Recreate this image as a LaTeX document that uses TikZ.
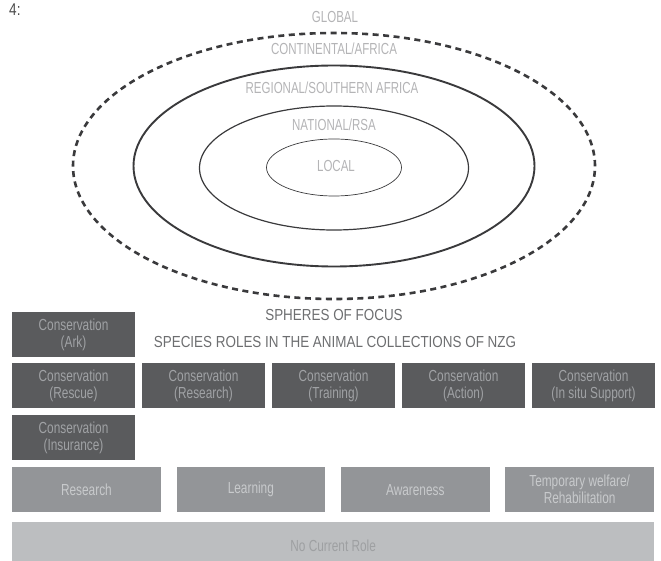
\documentclass[tikz,border=0pt]{standalone}
\usepackage{fontspec}
\setmainfont{Liberation Sans}
\newfontfamily\ringfont{Liberation Sans}[FakeStretch=0.72]
\newfontfamily\boxfont{Liberation Sans}[FakeStretch=0.74]
\newfontfamily\headfont{Liberation Sans}[FakeStretch=0.84]
\newfontfamily\numfont{Liberation Sans}[FakeStretch=0.8]
\usetikzlibrary{positioning}
\definecolor{nzgDark}{RGB}{90,91,93}
\definecolor{nzgDarkText}{RGB}{160,162,165}
\definecolor{nzgMid}{RGB}{147,149,152}
\definecolor{nzgMidText}{RGB}{200,202,204}
\definecolor{nzgLight}{RGB}{188,190,192}
\definecolor{nzgLightText}{RGB}{158,160,162}
\definecolor{nzgRing}{RGB}{58,58,60}
\definecolor{nzgRingText}{RGB}{180,180,182}
\definecolor{nzggray}{RGB}{109,110,112}

\begin{document}
\begin{tikzpicture}[x=1pt,y=-1pt,
  ringlabel/.style={text=nzgRingText, inner sep=0pt, font=\ringfont\fontsize{16}{18}\selectfont},
  headline/.style={text=nzggray, inner sep=0pt, font=\headfont\fontsize{16}{18}\selectfont},
  rolebox/.style={inner sep=0pt, align=center, anchor=north west,
    font=\boxfont\fontsize{16}{17}\selectfont},
  consbox/.style={rolebox, fill=nzgDark, text=nzgDarkText, minimum width=122.6pt, minimum height=45pt},
  midbox/.style={rolebox, fill=nzgMid, text=nzgMidText, minimum width=148.5pt, minimum height=45pt},
  nonebox/.style={rolebox, fill=nzgLight, text=nzgLightText, minimum width=642pt, minimum height=48pt}]
\useasboundingbox (0,0) rectangle (661,561);

% spheres of focus
\draw[nzgRing, line width=2.6pt, dash pattern=on 6pt off 4.5pt] (334,166) ellipse [x radius=261pt, y radius=133pt];
\draw[nzgRing, line width=1.9pt] (334,166) ellipse [x radius=200.5pt, y radius=100.5pt];
\draw[nzgRing, line width=1.2pt] (334,168) ellipse [x radius=134.5pt, y radius=62pt];
\draw[nzgRing, line width=0.7pt] (334,167.5) ellipse [x radius=67.5pt, y radius=28.5pt];

\node[text=black!70, anchor=base west, inner sep=0pt, font=\numfont\fontsize{17}{19}\selectfont] (fignum) at (9,16) {4:};
\node[ringlabel] (global) at (335,17) {GLOBAL};
\node[ringlabel] (continental) at (334,49) {CONTINENTAL/AFRICA};
\node[ringlabel] (regional) at (332,88) {REGIONAL/SOUTHERN AFRICA};
\node[ringlabel] (national) at (334,125) {NATIONAL/RSA};
\node[ringlabel] (local) at (336,166) {LOCAL};

\node[headline] (spheres) at (334,315) {SPHERES OF FOCUS};
\node[headline] (roles) at (335,342) {SPECIES ROLES IN THE ANIMAL COLLECTIONS OF NZG};

% species roles
\node[consbox] (ark) at (12,312) {Conservation\\(Ark)};
\node[consbox] (rescue) at (12,363) {Conservation\\(Rescue)};
\node[consbox, right=7pt of rescue] (consresearch) {Conservation\\(Research)};
\node[consbox, right=7pt of consresearch] (training) {Conservation\\(Training)};
\node[consbox, right=7pt of training] (action) {Conservation\\(Action)};
\node[consbox, right=7pt of action] (insitu) {Conservation\\(In situ Support)};
\node[consbox] (insurance) at (12,415) {Conservation\\(Insurance)};

\node[midbox] (research) at (12,467) {Research};
\node[midbox, right=15.5pt of research] (learning) {Learning};
\node[midbox, right=15.5pt of learning] (awareness) {Awareness};
\node[midbox, right=15.5pt of awareness] (welfare) {Temporary welfare/\\Rehabilitation};

\node[nonebox] (norole) at (12,522) {No Current Role};
\end{tikzpicture}
\end{document}
